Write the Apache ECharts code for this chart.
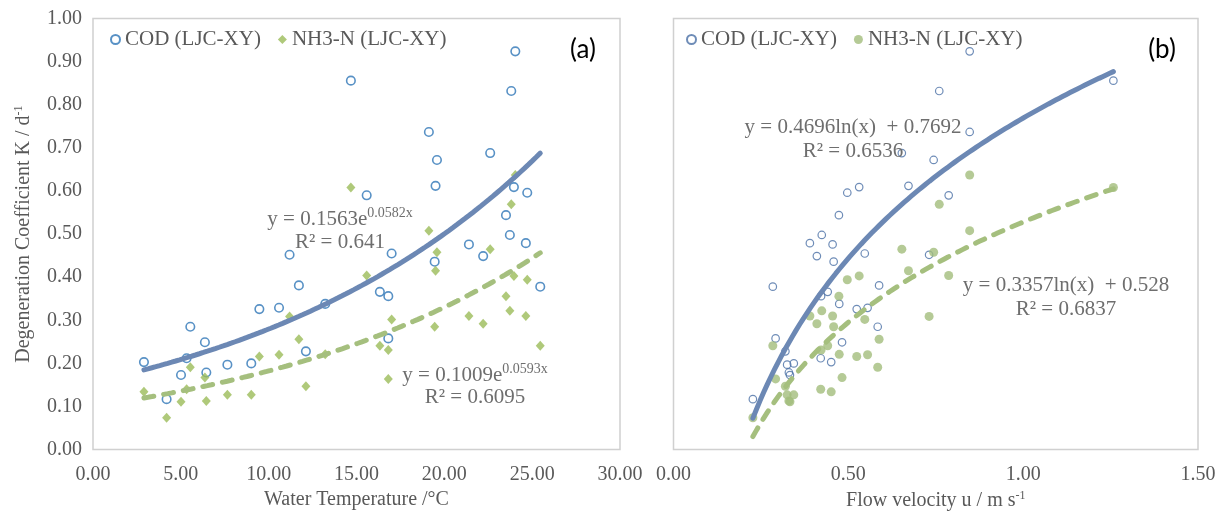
<!DOCTYPE html>
<html>
<head>
<meta charset="utf-8">
<script src="https://cdn.jsdelivr.net/npm/echarts@6/dist/echarts.min.js"></script>
<style>
html,body{margin:0;padding:0;background:#ffffff;}
#c{width:1227px;height:518px;}
</style>
</head>
<body>
<div id="c"></div>
<script>
// ---------- DATA (one entry per sample) ----------
const waterTemp = [2.90, 4.19, 5.01, 5.33, 5.54, 6.37, 6.45, 7.65, 9.01, 9.47, 10.59, 11.19, 11.72, 12.12, 13.22, 14.68, 15.58, 16.33, 16.81, 16.81, 17.00, 19.12, 19.45, 19.50, 19.58, 21.40, 22.21, 22.61, 23.51, 23.73, 23.81, 23.96, 24.04, 24.64, 24.72, 25.46];
const velocity  = [0.451, 0.227, 0.333, 0.421, 0.584, 0.482, 0.330, 0.325, 0.344, 0.524, 0.555, 0.731, 0.588, 0.320, 0.474, 1.258, 0.787, 0.441, 0.422, 0.292, 0.547, 0.847, 0.458, 0.672, 0.744, 0.455, 0.410, 0.653, 0.473, 0.424, 0.760, 0.531, 0.847, 0.390, 0.497, 0.284];
const codK      = [0.203, 0.117, 0.173, 0.212, 0.285, 0.249, 0.179, 0.197, 0.200, 0.326, 0.329, 0.452, 0.381, 0.228, 0.338, 0.856, 0.590, 0.366, 0.356, 0.258, 0.455, 0.737, 0.436, 0.612, 0.672, 0.476, 0.449, 0.688, 0.544, 0.498, 0.832, 0.609, 0.924, 0.479, 0.596, 0.378];
const nh3K      = [0.134, 0.074, 0.111, 0.140, 0.191, 0.167, 0.113, 0.127, 0.127, 0.216, 0.220, 0.309, 0.256, 0.147, 0.221, 0.608, 0.404, 0.241, 0.231, 0.164, 0.302, 0.508, 0.285, 0.415, 0.458, 0.310, 0.292, 0.465, 0.356, 0.322, 0.569, 0.403, 0.637, 0.310, 0.394, 0.241];

// Trendline coefficients printed on the chart
const codExpFit = [0.1563, 0.0582];   // y = a e^(b x)
const nh3ExpFit = [0.1009, 0.0593];
const codLogFit = [0.4696, 0.7692];   // y = a ln(x) + b
const nh3LogFit = [0.3357, 0.528];

const seriesNames = ['COD (LJC-XY)', 'NH3-N (LJC-XY)'];
const tempTicks = [0, 30, 5];
const velTicks = [0, 1.5, 0.5];
const kTicks = [0, 1, 0.1];
const axisTitles = ['Water Temperature /°C', 'Flow velocity u / m s{s|-1}', 'Degeneration Coefficient K / d{s|-1}'];
const eqTexts = [
  ['{b|y = 0.1563e}{s|0.0582x}', '{b|R² = 0.641}'],
  ['{b|y = 0.1009e}{s|0.0593x}', '{b|R² = 0.6095}'],
  ['{b|y = 0.4696ln(x)  + 0.7692}', '{b|R² = 0.6536}'],
  ['{b|y = 0.3357ln(x)  + 0.528}', '{b|R² = 0.6837}']
];
const panelLabels = ['(a)', '(b)'];

// ---------- HELPERS ----------
const FONT = '"Liberation Serif","Times New Roman",serif';
const GREY = '#595959';
const EQ_GREY = '#6e6e6e';
const zip = (xs, ys) => xs.map((x, i) => [x, ys[i]]);
function curve(xs, f) {
  const a = Math.min(...xs), b = Math.max(...xs), n = 100, out = [];
  for (let i = 0; i <= n; i++) { const x = a + (b - a) * i / n; out.push([x, f(x)]); }
  return out;
}
const expF = c => x => c[0] * Math.exp(c[1] * x);
const logF = c => x => c[0] * Math.log(x) + c[1];

const COD_A = '#2e75b6', COD_B = '#4a6fa5', GREEN = '#9bbb59', GREEN_B = '#a3bd7c';
const TREND_BLUE = '#6c88b4', TREND_GREEN = '#a5bf7e';

const richSup = {
  s: {fontFamily: FONT, fontSize: 12, color: GREY, verticalAlign: 'top', lineHeight: 22}
};

function xAxis(grid, t, name) {
  return {
    type: 'value', gridIndex: grid, min: t[0], max: t[1], interval: t[2],
    axisLine: {show: false}, axisTick: {show: false}, splitLine: {show: false},
    axisLabel: {formatter: v => v.toFixed(2), fontFamily: FONT, fontSize: 20, color: GREY, margin: 15},
    name: name, nameLocation: 'middle', nameGap: 30,
    nameTextStyle: {fontFamily: FONT, fontSize: 20, color: GREY, rich: richSup}
  };
}

function eqGraphic(lines, cx, y1, y2) {
  const rich = {
    b: {fontFamily: FONT, fontSize: 21, fill: EQ_GREY, color: EQ_GREY, lineHeight: 23, verticalAlign: 'bottom'},
    s: {fontFamily: FONT, fontSize: 14, fill: EQ_GREY, color: EQ_GREY, lineHeight: 23, verticalAlign: 'top'}
  };
  return [y1, y2].map((y, i) => ({
    type: 'text', x: cx, y: y, z: 100,
    style: {text: lines[i], rich: rich, align: 'center', textAlign: 'center', verticalAlign: 'middle', textVerticalAlign: 'middle',
            font: '21px ' + FONT, fill: EQ_GREY}
  }));
}

const chart = echarts.init(document.getElementById('c'), null, {renderer: 'canvas'});

const option = {
  animation: false,
  backgroundColor: '#ffffff',
  grid: [
    {left: 93, top: 18.6, width: 527, height: 431, show: true, borderColor: '#d0d0d0', borderWidth: 1.5, containLabel: false},
    {left: 673.5, top: 18.6, width: 524.5, height: 431, show: true, borderColor: '#d0d0d0', borderWidth: 1.5, containLabel: false}
  ],
  xAxis: [xAxis(0, tempTicks, axisTitles[0]), xAxis(1, velTicks, axisTitles[1])],
  yAxis: [
    {type: 'value', gridIndex: 0, min: kTicks[0], max: kTicks[1], interval: kTicks[2],
     axisLine: {show: false}, axisTick: {show: false}, splitLine: {show: false},
     axisLabel: {formatter: v => v.toFixed(2), fontFamily: FONT, fontSize: 20, color: GREY, margin: 11},
     name: axisTitles[2], nameLocation: 'middle', nameGap: 58, nameRotate: 90,
     nameTextStyle: {fontFamily: FONT, fontSize: 20, color: GREY, rich: richSup}},
    {type: 'value', gridIndex: 1, min: kTicks[0], max: kTicks[1], interval: kTicks[2],
     axisLine: {show: false}, axisTick: {show: false}, splitLine: {show: false}, axisLabel: {show: false}}
  ],
  legend: [
    {left: 110, top: 29, itemWidth: 9, itemHeight: 9, itemGap: 17, padding: 0,
     textStyle: {fontFamily: FONT, fontSize: 21, color: GREY},
     data: [
       {name: seriesNames[0], icon: 'emptyCircle', itemStyle: {color: COD_A, borderColor: COD_A, borderWidth: 1.5}},
       {name: seriesNames[1], icon: 'diamond', itemStyle: {color: GREEN}}
     ]},
    {left: 686, top: 29, itemWidth: 9, itemHeight: 9, itemGap: 17, padding: 0,
     textStyle: {fontFamily: FONT, fontSize: 21, color: GREY},
     data: [
       {name: seriesNames[0], icon: 'emptyCircle', itemStyle: {color: COD_B, borderColor: COD_B, borderWidth: 1.2}},
       {name: seriesNames[1], icon: 'circle', itemStyle: {color: GREEN_B}}
     ]}
  ],
  series: [
    {name: seriesNames[0], type: 'scatter', xAxisIndex: 0, yAxisIndex: 0, data: zip(waterTemp, codK),
     symbol: 'circle', symbolSize: 8.5, itemStyle: {color: 'rgba(255,255,255,0)', borderColor: COD_A, borderWidth: 1.6}, z: 2},
    {name: seriesNames[1], type: 'scatter', xAxisIndex: 0, yAxisIndex: 0, data: zip(waterTemp, nh3K),
     symbol: 'diamond', symbolSize: [9, 10], itemStyle: {color: GREEN}, z: 2},
    {name: 'trendCodA', type: 'line', xAxisIndex: 0, yAxisIndex: 0, data: curve(waterTemp, expF(codExpFit)),
     showSymbol: false, smooth: false, lineStyle: {color: TREND_BLUE, width: 5, cap: 'round'}, z: 4, silent: true},
    {name: 'trendNh3A', type: 'line', xAxisIndex: 0, yAxisIndex: 0, data: curve(waterTemp, expF(nh3ExpFit)),
     showSymbol: false, lineStyle: {color: TREND_GREEN, width: 5, type: [10, 10], cap: 'round'}, z: 4, silent: true},
    {name: seriesNames[0], type: 'scatter', xAxisIndex: 1, yAxisIndex: 1, data: zip(velocity, codK),
     symbol: 'circle', symbolSize: 7.5, itemStyle: {color: 'rgba(255,255,255,0)', borderColor: COD_B, borderWidth: 1.2}, z: 2},
    {name: seriesNames[1], type: 'scatter', xAxisIndex: 1, yAxisIndex: 1, data: zip(velocity, nh3K),
     symbol: 'circle', symbolSize: 9, itemStyle: {color: GREEN_B}, z: 3},
    {name: 'trendCodB', type: 'line', xAxisIndex: 1, yAxisIndex: 1, data: curve(velocity, logF(codLogFit)),
     showSymbol: false, lineStyle: {color: TREND_BLUE, width: 5, cap: 'round'}, z: 4, silent: true},
    {name: 'trendNh3B', type: 'line', xAxisIndex: 1, yAxisIndex: 1, data: curve(velocity, logF(nh3LogFit)),
     showSymbol: false, lineStyle: {color: TREND_GREEN, width: 5, type: [10, 10], cap: 'round'}, z: 4, silent: true}
  ],
  graphic: [].concat(
    eqGraphic(eqTexts[0], 340, 218, 241),
    eqGraphic(eqTexts[1], 475, 374, 396),
    eqGraphic(eqTexts[2], 853, 126, 150),
    eqGraphic(eqTexts[3], 1066, 284, 308),
    [
      {type: 'text', x: 583, y: 50, z: 100, style: {text: panelLabels[0], font: '26px Lato, "Open Sans", sans-serif', fill: '#000', align: 'center', textAlign: 'center', verticalAlign: 'middle', textVerticalAlign: 'middle'}},
      {type: 'text', x: 1162, y: 50, z: 100, style: {text: panelLabels[1], font: '26px Lato, "Open Sans", sans-serif', fill: '#000', align: 'center', textAlign: 'center', verticalAlign: 'middle', textVerticalAlign: 'middle'}}
    ]
  )
};
chart.setOption(option);
</script>
</body>
</html>
